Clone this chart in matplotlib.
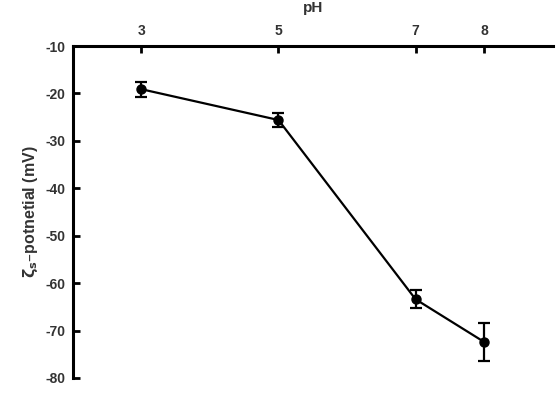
import matplotlib
matplotlib.use("Agg")
import matplotlib.pyplot as plt

ph = [3, 5, 7, 8]
zeta = [-19.1, -25.6, -63.4, -72.4]
err = [1.6, 1.5, 1.9, 4.1]
xticks = [3, 5, 7, 8]
yticks = [-10, -20, -30, -40, -50, -60, -70, -80]

plt.rcParams['font.family'] = ['Liberation Sans', 'DejaVu Sans']
fig = plt.figure(figsize=(5.56, 3.98), dpi=100)
ax = fig.add_axes([0.131, 0.0503, 0.863, 0.834])
ax.errorbar(ph, zeta, yerr=err, color='black', marker='o', markersize=6.5,
            linewidth=1.6, elinewidth=1.6, capsize=4, capthick=1.6)
ax.set_xlim(2, 9)
ax.set_ylim(-80, -10)
ax.xaxis.tick_top()
ax.xaxis.set_label_position('top')
ax.set_xticks(xticks)
ax.set_yticks(yticks)
ax.set_xticklabels([str(t) for t in xticks], fontweight='bold', fontsize=10, color='#333333')
ax.set_yticklabels([str(t) for t in yticks], fontweight='bold', fontsize=10, color='#333333')
ax.tick_params(direction='in', length=5, width=2, pad=5.5)
for s in ['right', 'bottom']:
    ax.spines[s].set_visible(False)
for s in ['left', 'top']:
    ax.spines[s].set_linewidth(2.2)
ax.set_xlabel('pH', fontweight='bold', fontsize=11, labelpad=9, color='#333333')
ax.set_ylabel(r'$\mathbf{\zeta_s}$–potnetial (mV)', fontweight='bold', fontsize=11.5,
              labelpad=4, color='#333333')
fig.savefig('out.png', dpi=100)
